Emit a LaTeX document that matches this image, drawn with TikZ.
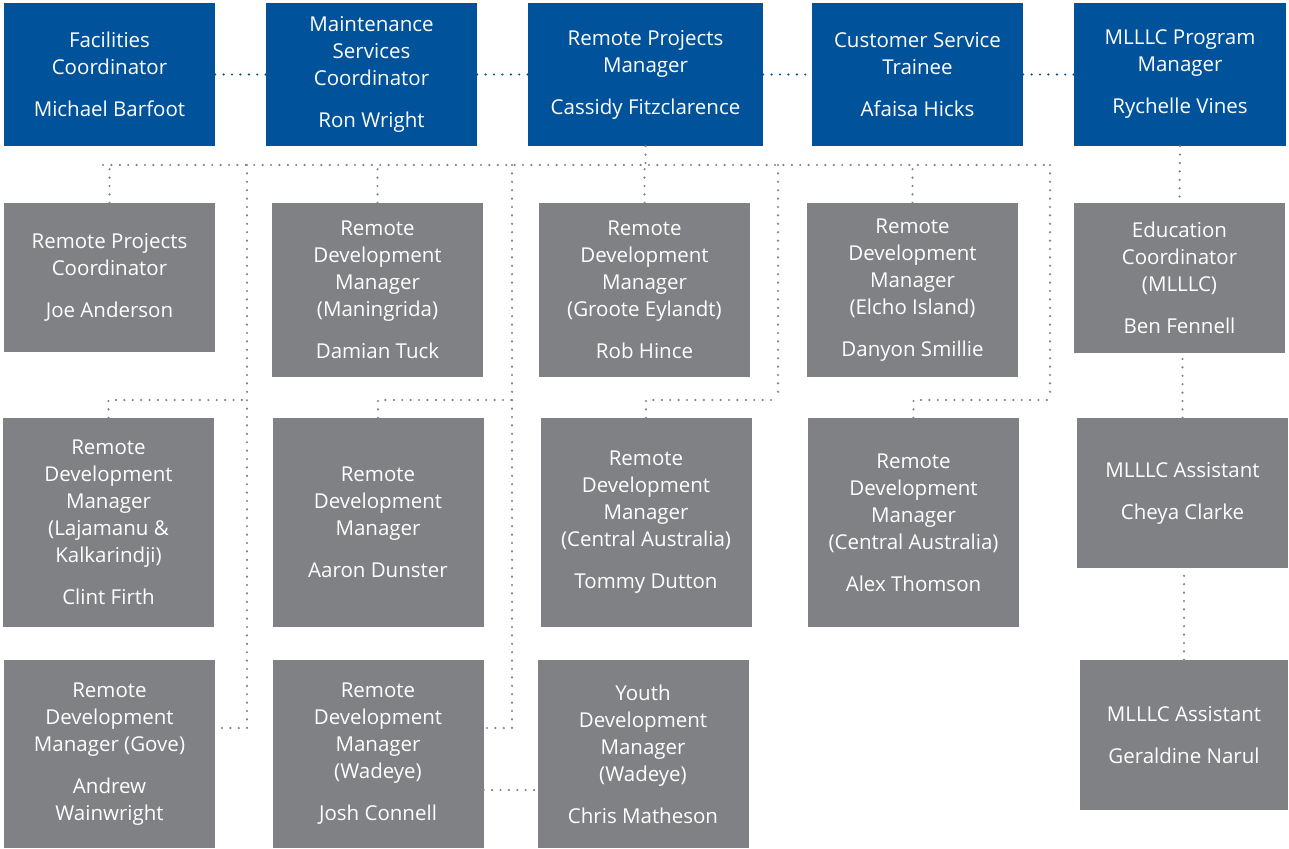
\documentclass[tikz,border=0pt]{standalone}
\usepackage{fontspec}
\setmainfont{Open Sans}
\definecolor{orgblue}{HTML}{00529B}
\definecolor{orggray}{HTML}{808184}

\begin{document}
\begin{tikzpicture}[x=1pt, y=-1pt,
        box/.style={text=white, align=center, inner sep=0pt, minimum width=211pt,
            font=\fontsize{20.5}{27}\selectfont},
        lead/.style={box, fill=orgblue, minimum height=143pt},
        staff/.style={box, fill=orggray},
        dots/.style={orggray, line width=2.4pt, line cap=round, dash pattern=on 0pt off 8.4pt},
        bluedots/.style={dots, orgblue}]
    \useasboundingbox (0,0) rectangle (1289,848);

    % top row
    \node[lead] (fac) at (109.5,74.5) {Facilities\\Coordinator\\[15pt]Michael Barfoot};
    \node[lead] (msc) at (371.5,74.5) {Maintenance\\Services\\Coordinator\\[15pt]Ron Wright};
    \node[lead, minimum width=235pt] (rpm) at (645.5,74.5) {Remote Projects\\Manager\\[15pt]Cassidy Fitzclarence};
    \node[lead] (cst) at (917.5,74.5) {Customer Service\\Trainee\\[15pt]Afaisa Hicks};
    \node[lead, minimum width=212pt] (mpm) at (1180,74.5) {MLLLC Program\\Manager\\[15pt]Rychelle Vines};

    \draw[bluedots] (fac.east) -- (msc.west);
    \draw[bluedots] (msc.east) -- (rpm.west);
    \draw[bluedots] (rpm.east) -- (cst.west);
    \draw[bluedots] (cst.east) -- (mpm.west);

    % second row
    \node[staff, minimum height=149pt] (rpc) at (109.5,277.5) {Remote Projects\\Coordinator\\[15pt]Joe Anderson};
    \node[staff, minimum height=174pt] (man) at (377.5,290) {Remote\\Development\\Manager\\(Maningrida)\\[15pt]Damian Tuck};
    \node[staff, minimum height=174pt] (gro) at (644.5,290) {Remote\\Development\\Manager\\(Groote Eylandt)\\[15pt]Rob Hince};
    \node[staff, minimum height=174pt] (elc) at (912.5,290) {Remote\\Development\\Manager\\(Elcho Island)\\[15pt]Danyon Smillie};
    \node[staff, minimum height=150pt] (edu) at (1179.5,278) {Education\\Coordinator\\(MLLLC)\\[15pt]Ben Fennell};

    % third row
    \node[staff, minimum height=209pt] (laj) at (108.5,522.5) {Remote\\Development\\Manager\\(Lajamanu \&\\Kalkarindji)\\[15pt]Clint Firth};
    \node[staff, minimum height=209pt] (dun) at (378,522.5) {Remote\\Development\\Manager\\[15pt]Aaron Dunster};
    \node[staff, minimum height=209pt] (dut) at (646,522.5) {Remote\\Development\\Manager\\(Central Australia)\\[15pt]Tommy Dutton};
    \node[staff, minimum height=209pt] (tho) at (913.5,522.5) {Remote\\Development\\Manager\\(Central Australia)\\[15pt]Alex Thomson};
    \node[staff, minimum height=150pt] (cla) at (1182.5,493) {MLLLC Assistant\\[15pt]Cheya Clarke};

    % fourth row
    \node[staff, minimum height=188pt] (gov) at (109.5,754) {Remote\\Development\\Manager (Gove)\\[15pt]Andrew\\Wainwright};
    \node[staff, minimum height=188pt] (con) at (378,754) {Remote\\Development\\Manager\\(Wadeye)\\[15pt]Josh Connell};
    \node[staff, minimum height=188pt] (mat) at (643,754) {Youth\\Development\\Manager\\(Wadeye)\\[15pt]Chris Matheson};
    \node[staff, minimum height=150pt, minimum width=208pt] (nar) at (1184,735) {MLLLC Assistant\\[15pt]Geraldine Narul};

    % dotted links under the projects manager
    \coordinate (busL) at (103,165);
    \coordinate (busR) at (1052,165);
    \coordinate (mid) at (0,400);
    \coordinate (t1) at (247,165);
    \coordinate (t2) at (512,165);
    \coordinate (t3) at (778,165);
    \coordinate (t4) at (1050,165);

    \draw[dots] (busL) -- (busR);
    \draw[dots] (rpm.south) -- (rpm.south |- busL);
    \foreach \n in {rpc,man,gro,elc}
        \draw[dots] (\n.north) -- (\n.north |- busL);

    \draw[dots] (t1) |- ([yshift=26pt]gov.east);
    \draw[dots] (t2) |- ([yshift=26pt]con.east);
    \draw[dots] (t3) -- (t3 |- mid);
    \draw[dots] (t4) -- (t4 |- mid);
    \draw[dots] (laj.north) |- (t1 |- mid);
    \draw[dots] (dun.north) |- (t2 |- mid);
    \draw[dots] (dut.north) |- (t3 |- mid);
    \draw[dots] (tho.north) |- (t4 |- mid);
    \draw[dots] ([yshift=-36pt]con.east) -- ([yshift=-36pt]con.east -| mat.west);

    % program manager column
    \draw[dots] (mpm.south) -- (edu.north);
    \draw[dots] (cla.north) -- (cla.north |- edu.south);
    \draw[dots] (nar.north) -- (nar.north |- cla.south);
\end{tikzpicture}
\end{document}
